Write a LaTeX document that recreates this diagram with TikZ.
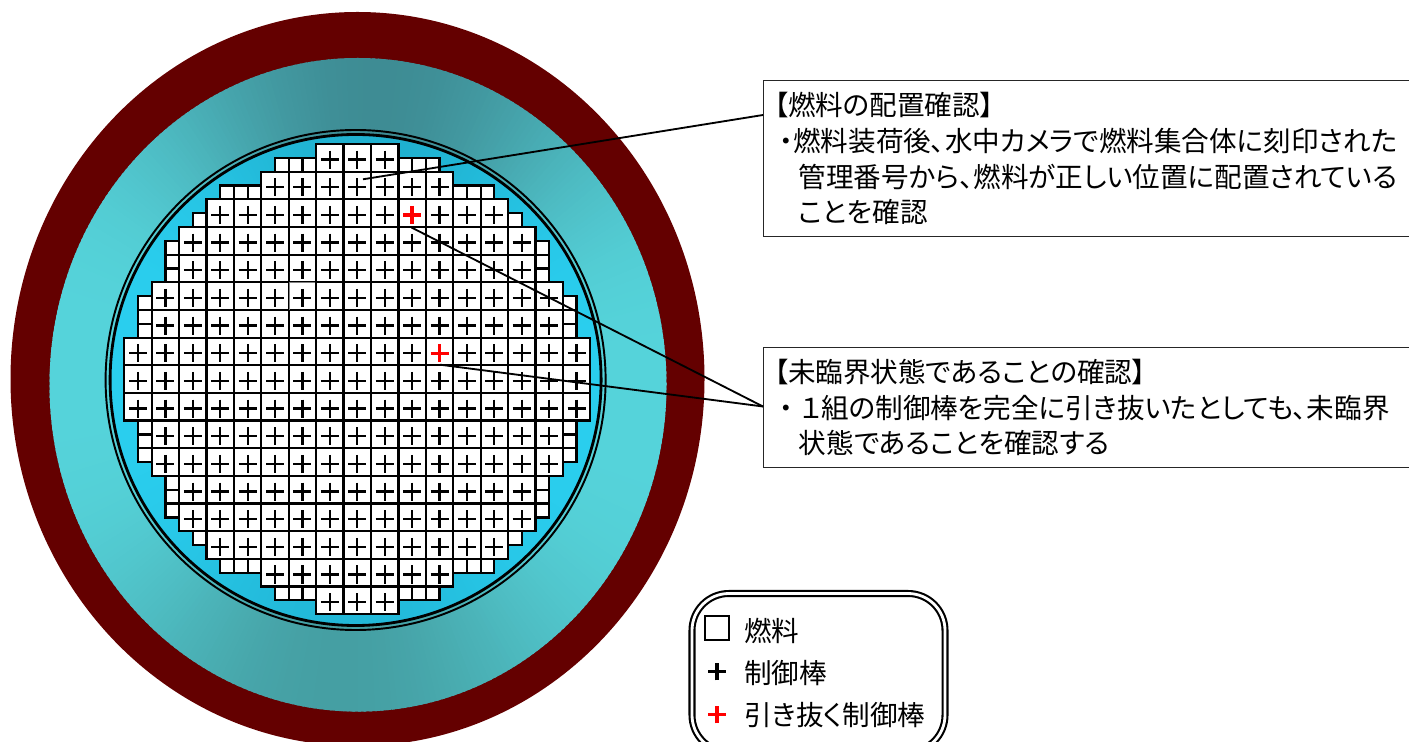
\documentclass[tikz,border=0pt]{standalone}
\usepackage{fontspec}
\setmainfont{Noto Sans CJK JP}[RawFeature=+palt]
\definecolor{vesselred}{HTML}{640000}
\definecolor{tealpale}{HTML}{55D3DA}
\definecolor{tealtop}{HTML}{3E8C94}
\definecolor{tealbot}{HTML}{459FA3}
\definecolor{bluepale}{HTML}{2ACEEE}
\definecolor{bluetop}{HTML}{1FB0CF}
\definecolor{bluebot}{HTML}{22B8D8}
\tikzset{
    fuelline/.style={draw=black, line width=1.25pt, fill=white},
    rodline/.style={black, line width=1.25pt},
    redrod/.style={red, line width=1.9pt},
    leadline/.style={black, line width=1.05pt},
    infobox/.style={draw=black!85, line width=0.75pt, anchor=north west, text width=700*0.02cm, align=left, inner sep=0pt, font=\fontsize{15.7pt}{20.3pt}\selectfont},
    legendtext/.style={anchor=west, inner sep=0pt, font=\fontsize{15.7pt}{18pt}\selectfont},
}
% ring of wedges whose colour follows the angle: {cx}{cy}{pale}{top}{bottom}
\newcommand{\angleshade}[5]{
    \foreach\a in {0,1,...,359} {
        \pgfmathsetmacro{\m}{100*abs(cos(\a-85.5))^3.5}
        \pgfmathsetmacro{\b}{\a+1.5}
        \pgfmathtruncatemacro{\up}{\a<176 ? 1 : 0}
        \ifnum\up=1 \def\darkc{#4}\else \def\darkc{#5}\fi
        \fill[\darkc!\m!#3] (#1,#2) -- ({#1+500*cos(\a)},{#2-500*sin(\a)}) -- ({#1+500*cos(\b)},{#2-500*sin(\b)}) -- cycle;
    }
}
\newcommand{\fuelcell}[2]{
    \pgfmathsetmacro{\x}{124.3+27.41*#1}
    \pgfmathsetmacro{\y}{144+27.66*#2}
    \draw[fuelline] (\x,\y) rectangle ++(27.41,27.66);
}
\newcommand{\rodplus}[3]{
    \pgfmathsetmacro{\x}{124.3+27.41*#1+13.7}
    \pgfmathsetmacro{\y}{144+27.66*#2+15.6}
    \draw[#3] (\x-9,\y) -- (\x+9,\y) (\x,\y-9) -- (\x,\y+9);
}
% half size cells, drawn in all four quarters
\newcommand{\halfcells}[1]{
    \foreach\u/\v in {#1} {
        \foreach\p/\q in {\u/\v, 33-\u/\v, \u/33-\v, 33-\u/33-\v} {
            \pgfmathsetmacro{\x}{124.3+13.705*(\p)}
            \pgfmathsetmacro{\y}{144+13.83*(\q)}
            \draw[fuelline] (\x,\y) rectangle ++(13.705,13.83);
        }
    }
}

\begin{document}
\begin{tikzpicture}[x=0.02cm, y=-0.02cm]
    \useasboundingbox (0,0) rectangle (1409,742);
    \clip (0,0) rectangle (1409,742);

    % Vessel
    \fill[vesselred] (357.5,379) ellipse (347 and 367);
    \begin{scope}
        \clip (358,384.8) ellipse (308.5 and 326.8);
        \angleshade{358}{384.8}{tealpale}{tealtop}{tealbot}
    \end{scope}
    \begin{scope}
        \clip (355.6,380) circle (245.5);
        \angleshade{355.6}{380}{bluepale}{bluetop}{bluebot}
    \end{scope}
    \draw[black, line width=1.1pt] (355.6,380) circle (250);
    \draw[black, line width=1.6pt] (355.6,380) circle (245.5);

    % Core
    \foreach\r/\f in {0/7,1/5,2/3,3/2,4/2,5/1,6/1,7/0,8/0,9/0,10/1,11/1,12/2,13/2,14/3,15/5,16/7} {
        \pgfmathtruncatemacro{\l}{16-\f}
        \foreach\c in {\f,...,\l} {
            \fuelcell{\c}{\r}
            \rodplus{\c}{\r}{rodline}
        }
    }
    \halfcells{11/1,12/1,13/1,7/3,8/3,9/3,5/5,3/7,3/8,3/9,1/11,1/12,1/13}
    \draw[gray, line width=0.7pt] (289.4,310) -- (289.4,282.5) -- (315,282.5);

    % Rods to pull out
    \fuelcell{10}{2}
    \rodplus{10}{2}{redrod}
    \fuelcell{11}{7}
    \rodplus{11}{7}{redrod}
    \coordinate (rodone) at (411.5,227.5);
    \coordinate (rodtwo) at (440,364.7);
    \coordinate (checkfuel) at (363,179.3);

    % Notes
    \node[infobox, minimum height=156*0.02cm] (fuelbox) at (763,80) {\hspace{6pt}【燃料の配置確認】\\
        \hspace{9pt}・燃料装荷後、水中カメラで燃料集合体に刻印された\\
        \hspace{20pt}管理番号から、燃料が正しい位置に配置されている\\
        \hspace{20pt}ことを確認};
    \node[infobox, minimum height=120*0.02cm] (critbox) at (763,347) {\hspace{6pt}【未臨界状態であることの確認】\\
        \hspace{9pt}・\hspace{4pt}１組の制御棒を完全に引き抜いたとしても、未臨界\\
        \hspace{20pt}状態であることを確認する};
    \coordinate (fuelport) at (fuelbox.north west |- 0,115);
    \coordinate (critport) at (critbox.north west |- 0,406.5);
    \draw[leadline] (fuelport) -- (checkfuel);
    \draw[leadline] (critport) -- (rodone);
    \draw[leadline] (critport) -- (rodtwo);

    % Legend
    \draw[black, line width=1.2pt, double=white, double distance=1.6pt, rounded corners=21pt] (692,593.5) rectangle (945,752);
    \node[draw=black, line width=1.1pt, minimum size=24*0.02cm, inner sep=0pt] (fuelkey) at (717.3,628) {};
    \node[legendtext] (fuellabel) at (744,631) {燃料};
    \coordinate (rodkey) at (717,671.5);
    \draw[black, line width=2.1pt] ([xshift=-18*0.01cm]rodkey) -- ([xshift=18*0.01cm]rodkey) ([yshift=-18*0.01cm]rodkey) -- ([yshift=18*0.01cm]rodkey);
    \node[legendtext] (rodlabel) at (744,673) {制御棒};
    \coordinate (pullkey) at (717,714.5);
    \draw[red, line width=2pt] ([xshift=-18*0.01cm]pullkey) -- ([xshift=18*0.01cm]pullkey) ([yshift=-18*0.01cm]pullkey) -- ([yshift=18*0.01cm]pullkey);
    \node[legendtext] (pulllabel) at (744,715) {引き抜く制御棒};
\end{tikzpicture}
\end{document}
